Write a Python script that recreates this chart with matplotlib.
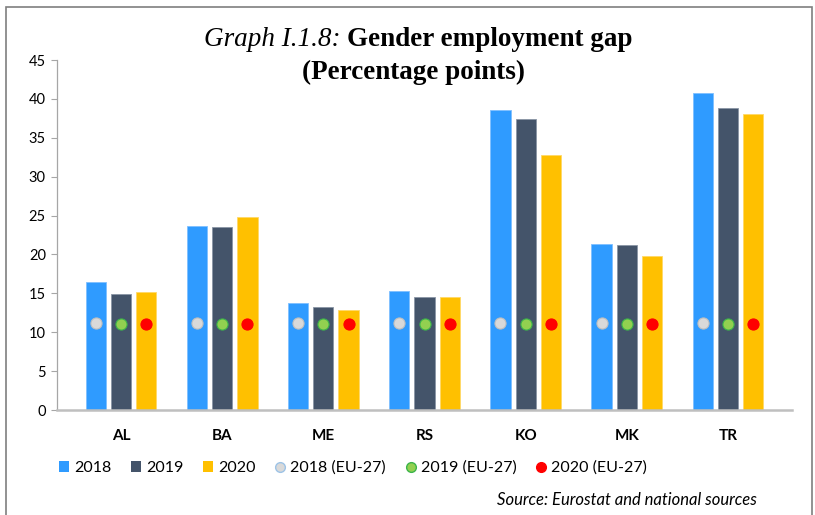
import matplotlib
matplotlib.use("Agg")
import matplotlib.pyplot as plt
from matplotlib.lines import Line2D
from matplotlib.patches import Patch, Rectangle
import numpy as np

categories = ["AL", "BA", "ME", "RS", "KO", "MK", "TR"]
v2018 = [16.5, 23.7, 13.7, 15.3, 38.6, 21.3, 40.8]
v2019 = [14.9, 23.5, 13.2, 14.5, 37.4, 21.2, 38.8]
v2020 = [15.2, 24.8, 12.8, 14.5, 32.8, 19.8, 38.1]
eu2018 = 11.2
eu2019 = 11.1
eu2020 = 11.0
yticks = [0, 5, 10, 15, 20, 25, 30, 35, 40, 45]

c18, c19, c20 = "#2F9BFF", "#44546A", "#FFC000"
W, H = 815, 515
fig = plt.figure(figsize=(W / 100, H / 100), dpi=100)
ax = fig.add_axes([57 / W, 1 - 410 / H, (792 - 57) / W, 350 / H])

x = np.arange(len(categories))
bw = 0.2
off = 0.25
ax.bar(x - off, v2018, bw, color=c18, edgecolor="#7FBFFF", linewidth=0.6, zorder=2)
ax.bar(x, v2019, bw, color=c19, edgecolor="#8A95A5", linewidth=0.6, zorder=2)
ax.bar(x + off, v2020, bw, color=c20, edgecolor="#FFD966", linewidth=0.6, zorder=2)
ms = 8
ax.plot(x - off, [eu2018] * len(x), "o", ms=ms, mfc="#D9D9D9", mec="#BFBFBF", mew=0.8, zorder=3)
ax.plot(x, [eu2019] * len(x), "o", ms=ms, mfc="#92D050", mec="#3CB44B", mew=0.8, zorder=3)
ax.plot(x + off, [eu2020] * len(x), "o", ms=ms, mfc="#FF0000", mec="#FF0000", mew=0.8, zorder=3)

ax.set_xlim(-0.632, 6.632)
ax.set_ylim(0, 45)
ax.set_yticks(yticks)
ax.set_xticks(x)
ax.set_xticklabels(categories, fontfamily="Lato", fontweight="bold", fontsize=11)
ax.tick_params(axis="x", length=0, pad=14)
ax.tick_params(axis="y", length=4, width=0.8, color="#A6A6A6", labelsize=10.5, pad=4)
for lab in ax.get_yticklabels():
    lab.set_fontfamily("Lato")
for s in ["top", "right"]:
    ax.spines[s].set_visible(False)
ax.spines["left"].set_color("#A6A6A6")
ax.spines["left"].set_linewidth(0.9)
ax.spines["bottom"].set_color("#BFBFBF")
ax.spines["bottom"].set_linewidth(1.8)

# Title (mixed style first line)
renderer = fig.canvas.get_renderer()
tfs = 19.5
ty1 = 1 - 40 / H
t_it = fig.text(0, ty1, "Graph I.1.8: ", fontfamily="Liberation Serif", fontstyle="italic",
                fontsize=tfs, va="center", ha="left")
t_bd = fig.text(0, ty1, "Gender employment gap", fontfamily="Liberation Serif", fontweight="bold",
                fontsize=tfs, va="center", ha="left")
w1 = t_it.get_window_extent(renderer).width
w2 = t_bd.get_window_extent(renderer).width
start = 418 - (w1 + w2) / 2
t_it.set_x(start / W)
t_bd.set_x((start + w1) / W)
fig.text(414 / W, 1 - 72 / H, "(Percentage points)", fontfamily="Liberation Serif", fontweight="bold",
         fontsize=tfs, va="center", ha="center")

# Legend
handles = [
    Patch(facecolor=c18, label="2018"),
    Patch(facecolor=c19, label="2019"),
    Patch(facecolor=c20, label="2020"),
    Line2D([], [], ls="none", marker="o", ms=7, mfc="#D9D9D9", mec="#9DC3E6", label="2018 (EU-27)"),
    Line2D([], [], ls="none", marker="o", ms=7, mfc="#92D050", mec="#3CB44B", label="2019 (EU-27)"),
    Line2D([], [], ls="none", marker="o", ms=7, mfc="#FF0000", mec="#FF0000", label="2020 (EU-27)"),
]
fig.legend(handles=handles, loc="center", bbox_to_anchor=(353 / W, 1 - 468 / H), ncol=6,
           frameon=False, handlelength=0.65, handleheight=0.65, handletextpad=0.3, columnspacing=1.22,
           prop={"family": "Lato", "size": 11.5})

fig.text(757 / W, 1 - 500 / H, "Source: Eurostat and national sources", fontfamily="Lato",
         fontstyle="italic", fontsize=12, ha="right", va="center")

# Frame
fig.patches.append(Rectangle((6 / W, -0.1), (812 - 6) / W, (1 - 7 / H) + 0.1, transform=fig.transFigure,
                             fill=False, edgecolor="#7F7F7F", linewidth=1.2))

fig.savefig("out.png", dpi=100)
